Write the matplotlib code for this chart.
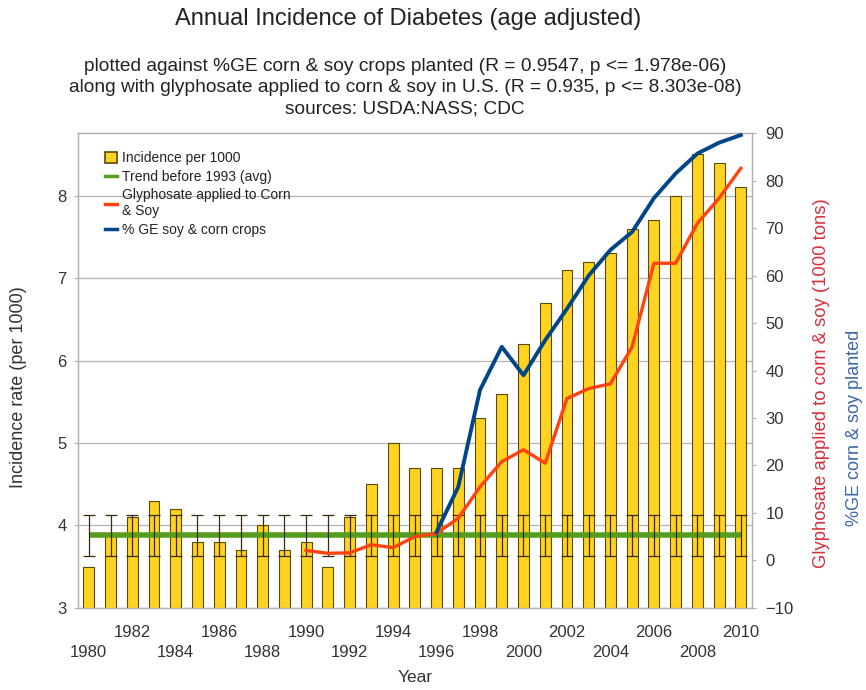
import matplotlib
matplotlib.use("Agg")
import matplotlib.pyplot as plt
from matplotlib.patches import Patch
from matplotlib.lines import Line2D

# --- data -------------------------------------------------------------
years = list(range(1980, 2011))
incidence = [3.5, 3.9, 4.1, 4.3, 4.2, 3.8, 3.8, 3.7, 4.0, 3.7, 3.8, 3.5, 4.1,
             4.5, 5.0, 4.7, 4.7, 4.7, 5.3, 5.6, 6.2, 6.7, 7.1, 7.2, 7.3, 7.6,
             7.7, 8.0, 8.5, 8.4, 8.1]
trend_level = 3.88          # average incidence before 1993
trend_err = 0.25

gly_years = list(range(1990, 2011))
glyphosate = [2.1, 1.5, 1.6, 3.3, 2.7, 5.0, 5.7, 8.9, 15.5, 20.8, 23.3, 20.5,
              34.1, 36.2, 37.2, 45.0, 62.6, 62.6, 71.0, 76.3, 82.6]

ge_years = list(range(1996, 2011))
ge_percent = [6.0, 15.5, 35.9, 45.0, 39.0, 46.4, 53.0, 60.0, 65.4, 69.2,
              76.3, 81.5, 85.7, 88.0, 89.6]

upper_tick_years = [1982, 1986, 1990, 1994, 1998, 2002, 2006, 2010]
lower_tick_years = [1980, 1984, 1988, 1992, 1996, 2000, 2004, 2008]

# --- style ------------------------------------------------------------
YELLOW = "#ffd320"
GREEN = "#579d1c"
RED = "#ff420e"
BLUE = "#004586"
GRID = "#b3b3b3"
TXT = "#333333"
plt.rcParams["font.family"] = ["Liberation Sans", "DejaVu Sans"]

fig = plt.figure(figsize=(8.66, 6.9), dpi=100)
ax = fig.add_axes([0.090, 0.119, 0.778, 0.688])
ax2 = ax.twinx()

# bars
ax.bar(years, incidence, width=0.5, color=YELLOW, edgecolor="#5a4a00",
       linewidth=0.8, zorder=2)
# pre-1993 average trend with its error range
ax.plot(years, [trend_level] * len(years), color=GREEN, lw=4, zorder=3,
        solid_capstyle="butt")
ax.errorbar(years, [trend_level] * len(years), yerr=trend_err, fmt="none",
            ecolor="#3a2a10", elinewidth=0.9, capsize=4.5, capthick=0.9,
            zorder=4)

ax.set_xlim(1979.5, 2010.5)
ax.set_ylim(3, 8.758)
ax.set_yticks([3, 4, 5, 6, 7, 8])
ax.yaxis.grid(True, color=GRID, lw=0.9, zorder=0)
ax.set_axisbelow(True)

# staggered year labels
ax.set_xticks(upper_tick_years)
ax.set_xticklabels([str(y) for y in upper_tick_years])
ax.set_xticks(lower_tick_years, minor=True)
ax.set_xticklabels([str(y) for y in lower_tick_years], minor=True)
ax.tick_params(axis="x", which="major", length=0, pad=12.5, labelsize=12,
               labelcolor=TXT)
ax.tick_params(axis="x", which="minor", length=0, pad=27, labelsize=12,
               labelcolor=TXT)
ax.tick_params(axis="y", length=3, color=GRID, labelsize=12, labelcolor=TXT,
               pad=5)
ax.set_xlabel("Year", fontsize=12.5, color=TXT, labelpad=7)
fig.text(0.021, 0.439, "Incidence rate (per 1000)", rotation=90,
         ha="center", va="center", fontsize=13, color=TXT)

# right-hand series
ax2.plot(gly_years, glyphosate, color=RED, lw=2.4, zorder=5,
         solid_joinstyle="round")
ax2.plot(ge_years, ge_percent, color=BLUE, lw=2.8, zorder=6,
         solid_joinstyle="round")
ax2.set_ylim(-10, 90)
ax2.set_yticks(range(-10, 91, 10))
ax2.tick_params(axis="y", length=3, color=GRID, labelsize=12, labelcolor=TXT,
                pad=7)

for a in (ax, ax2):
    for s in a.spines.values():
        s.set_color(GRID)
        s.set_linewidth(0.9)

fig.text(0.949, 0.445, "Glyphosate applied to corn & soy (1000 tons)",
         rotation=90, ha="center", va="center", fontsize=13.3, color="#d9303a")
fig.text(0.987, 0.38, "%GE corn & soy planted", rotation=90, ha="center",
         va="center", fontsize=13, color="#3b68a8")

# legend
handles = [Patch(facecolor=YELLOW, edgecolor="#5a4a00", linewidth=1.2),
           Line2D([], [], color=GREEN, lw=2.5),
           Line2D([], [], color=RED, lw=2.5),
           Line2D([], [], color=BLUE, lw=2.5)]
labels = ["Incidence per 1000", "Trend before 1993 (avg)",
          "Glyphosate applied to Corn\n& Soy", "% GE soy & corn crops"]
ax2.legend(handles, labels, loc="upper left", bbox_to_anchor=(0.04, 0.962),
           frameon=False, fontsize=10, handlelength=0.9, handleheight=0.8,
           handletextpad=0.35, labelspacing=0.32, borderpad=0,
           borderaxespad=0, labelcolor="#222222")

# titles
fig.text(0.471, 0.972, "Annual Incidence of Diabetes (age adjusted)",
         ha="center", va="center", fontsize=17, color="#222222")
fig.text(0.468, 0.873,
         "plotted against %GE corn & soy crops planted (R = 0.9547, p <= 1.978e-06)\n"
         "along with glyphosate applied to corn & soy in U.S. (R = 0.935, p <= 8.303e-08)\n"
         "sources: USDA:NASS; CDC",
         ha="center", va="center", fontsize=13.8, color="#222222",
         linespacing=1.3)

fig.savefig("out.png", dpi=100)
